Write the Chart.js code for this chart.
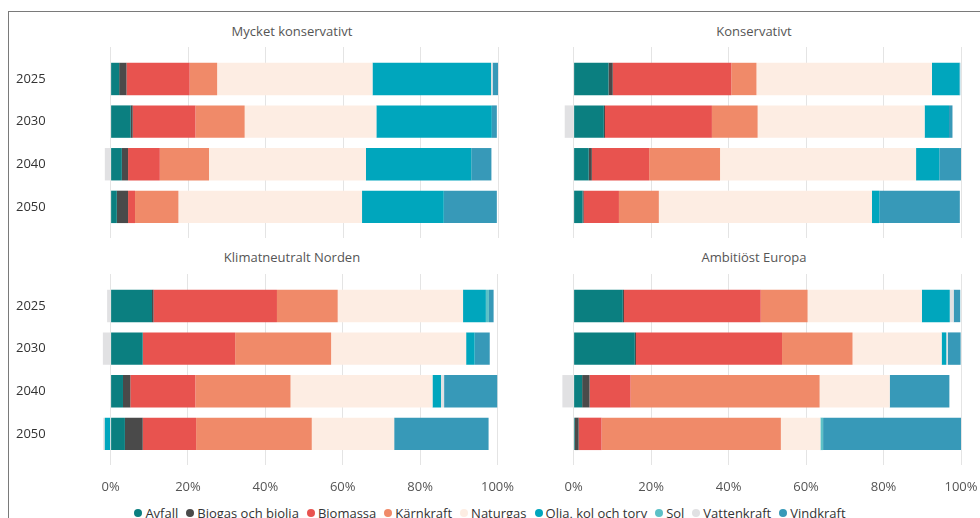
<!DOCTYPE html>
<html>
<head>
<meta charset="utf-8">
<script src="https://cdn.jsdelivr.net/npm/chart.js@4.4.1/dist/chart.umd.min.js"></script>
<style>
  html, body { margin: 0; padding: 0; background: #fff; overflow: hidden; }
  body { width: 980px; height: 518px; position: relative; font-family: "Open Sans", sans-serif; }
  #frame { position: absolute; left: 8px; top: 11px; width: 990px; height: 520px;
           border-top: 1px solid #7a7a7a; border-left: 1px solid #7a7a7a; }
  canvas { position: absolute; }
  .title { position: absolute; font-size: 13px; color: #555; transform: translateX(-50%); white-space: nowrap; }
  #legend { position: absolute; top: 504px; left: 0; width: 980px; text-align: center;
            font-size: 13px; color: #333; white-space: nowrap; }
  #legend span.item { display: inline-block; margin: 0 4px; }
  #legend span.dot { display: inline-block; width: 8px; height: 8px; border-radius: 50%; margin-right: 3px; vertical-align: 1px; }
</style>
</head>
<body>
<div id="frame"></div>
<div class="title" style="left:292px;top:22px">Mycket konservativt</div>
<div class="title" style="left:754px;top:22px">Konservativt</div>
<div class="title" style="left:292px;top:248px">Klimatneutralt Norden</div>
<div class="title" style="left:754px;top:248px">Ambitiöst Europa</div>
<canvas id="mk" width="498" height="191" style="left:16px;top:47px"></canvas>
<canvas id="ko" width="460" height="191" style="left:520px;top:47px"></canvas>
<canvas id="kn" width="498" height="230" style="left:16px;top:274px"></canvas>
<canvas id="ae" width="460" height="230" style="left:520px;top:274px"></canvas>
<div id="legend"></div>

<script>
"use strict";

const years = ["2025", "2030", "2040", "2050"];
const seriesNames = ["Avfall", "Biogas och biolja", "Biomassa", "Kärnkraft", "Naturgas",
  "Olja, kol och torv", "Sol", "Vattenkraft", "Vindkraft"];
const seriesColors = ["#0b7f80", "#4a4a4a", "#e8534f", "#f08a69", "#fdede3",
  "#00a6bd", "#5cc1c7", "#e1e1e3", "#3799b8"];
const xTicks = [0, 20, 40, 60, 80, 100];

// share in percent, one row per series (same order as seriesNames), columns = years
const mycketKonservativt = [
  [2.2, 5.2, 2.9, 1.6],
  [1.9, 0.5, 1.6, 2.9],
  [16.3, 16.2, 8.2, 1.8],
  [7.1, 12.7, 12.7, 11.2],
  [40.1, 34.0, 40.5, 47.4],
  [30.6, 29.8, 27.2, 21.1],
  [0, 0, 0, 0],
  [0.4, 0, -1.5, 0],
  [1.5, 1.3, 5.2, 13.7]
];
const konservativt = [
  [9.0, 7.8, 3.9, 2.3],
  [1.1, 0.3, 0.8, 0.3],
  [30.6, 27.6, 14.8, 9.1],
  [6.5, 11.8, 18.3, 10.3],
  [45.3, 43.1, 50.6, 55.0],
  [7.1, 6.3, 6.0, 1.9],
  [0, 0, 0, 0],
  [0, -2.3, 0, 0],
  [0.2, 0.9, 5.6, 20.8]
];
const klimatneutraltNorden = [
  [10.7, 8.3, 3.2, 3.7],
  [0.4, 0, 1.9, 4.6],
  [31.9, 23.9, 16.8, 13.8],
  [15.7, 24.8, 24.6, 29.9],
  [32.4, 34.9, 36.7, 21.3],
  [5.9, 2.2, 2.2, -1.5],
  [0.8, 0, 0, 0],
  [-0.9, -2.0, 0.8, -0.4],
  [1.2, 3.9, 13.8, 24.4]
];
const ambitiostEuropa = [
  [12.7, 15.8, 2.2, 0.3],
  [0.3, 0.3, 1.9, 1.0],
  [35.3, 37.7, 10.6, 5.9],
  [12.1, 18.2, 48.8, 46.3],
  [29.5, 23.0, 18.1, 10.2],
  [7.2, 1.2, 0, 0],
  [0, 0, 0, 0.7],
  [1.0, 0.4, -2.9, 0],
  [1.7, 3.3, 15.4, 35.6]
];

const font = { family: "'Open Sans', sans-serif", size: 13 };

function makePanel(id, rows, showYears, showX, yAxisWidth, padRight) {
  const datasets = rows.map((vals, s) => ({
    label: seriesNames[s],
    data: vals.map((v, i) => ({ x: v, y: i })),
    backgroundColor: seriesColors[s],
    borderWidth: 0,
    categoryPercentage: 0.76,
    barPercentage: 1
  }));

  new Chart(document.getElementById(id), {
    type: "bar",
    data: { datasets: datasets },
    options: {
      indexAxis: "y",
      responsive: false,
      animation: false,
      devicePixelRatio: 1,
      layout: { padding: { left: 0, right: padRight, top: 0, bottom: 0 } },
      plugins: { legend: { display: false }, tooltip: { enabled: false } },
      scales: {
        x: {
          type: "linear",
          stacked: true,
          offset: false,
          min: -3,
          max: 100,
          afterBuildTicks: (s) => { s.ticks = xTicks.map((v) => ({ value: v })); },
          afterFit: (s) => { s.height = showX ? 39 : 0; },
          border: { display: false },
          grid: { color: "#e4e4e4", lineWidth: 1, offset: false, drawTicks: showX,
                  tickLength: 14, tickColor: "rgba(0,0,0,0)" },
          ticks: { display: showX, color: "#555", font: font, padding: 0,
                   callback: (v) => v + "%" }
        },
        y: {
          type: "linear",
          stacked: true,
          offset: false,
          reverse: true,
          min: -0.75,
          max: 3.73,
          afterBuildTicks: (s) => { s.ticks = years.map((y, i) => ({ value: i })); },
          afterFit: (s) => { s.width = yAxisWidth; },
          border: { display: false },
          grid: { display: false, drawTicks: false },
          ticks: { display: showYears, color: "#333", font: font, padding: -8,
                   crossAlign: "far", callback: (v) => years[v] }
        }
      }
    }
  });
}

makePanel("mk", mycketKonservativt, true, false, 83, 16);
makePanel("ko", konservativt, false, false, 42, 19);
makePanel("kn", klimatneutraltNorden, true, true, 83, 16);
makePanel("ae", ambitiostEuropa, false, true, 42, 19);

const legend = document.getElementById("legend");
seriesNames.forEach((name, s) => {
  const item = document.createElement("span");
  item.className = "item";
  item.innerHTML = `<span class="dot" style="background:${seriesColors[s]}"></span>${name}`;
  legend.appendChild(item);
});
</script>
</body>
</html>
